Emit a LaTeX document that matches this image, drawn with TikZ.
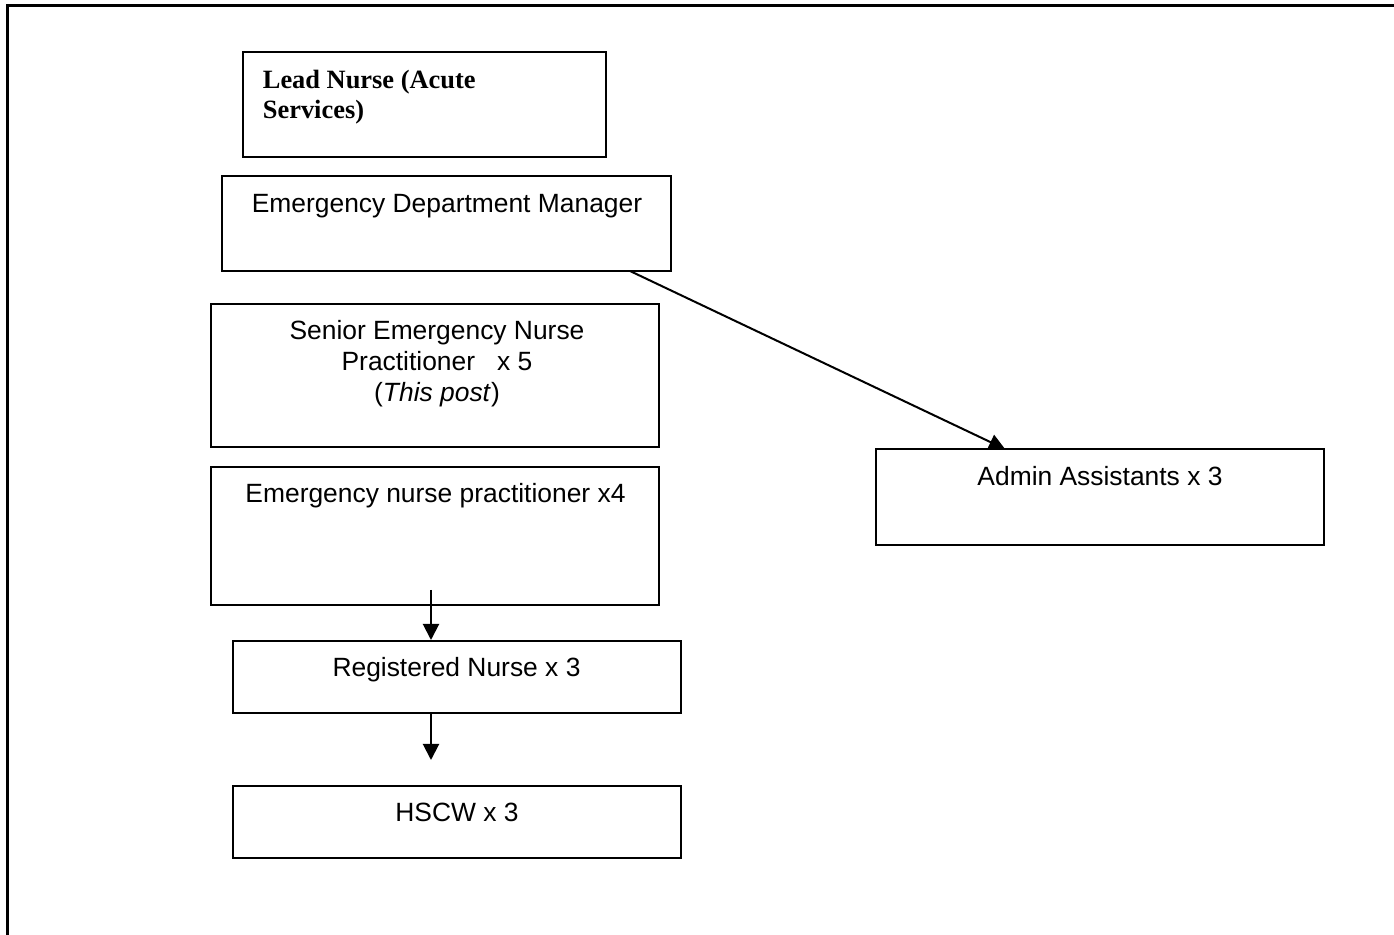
\documentclass[tikz,border=0pt]{standalone}
\usepackage{fontspec}
\setmainfont{Liberation Serif}
\setsansfont{Liberation Sans}
\usetikzlibrary{arrows.meta}

\begin{document}
\begin{tikzpicture}[x=0.5pt,y=-0.5pt,>={Triangle[width=8pt,length=8pt]}]
  \tikzstyle{box}=[rectangle,draw=black,line width=1pt,inner sep=0pt]
  \tikzstyle{txt}=[font=\sffamily\fontsize{13.2}{15.6}\selectfont,inner sep=0pt,align=center]
  \tikzstyle{head}=[font=\rmfamily\bfseries\fontsize{13.2}{15}\selectfont,inner sep=0pt,align=left]

\useasboundingbox (0,0) rectangle (1394,935);
\draw[line width=1.5pt] (7,935) -- (7,6) -- (1394,6);

\foreach \n/\cx/\cy/\w/\h in {lead/424.5/104.5/363/105, edm/446.5/223.5/449/95,
  senp/435/375.5/448/143, enp/435/536/448/138, rn/457/677/448/72,
  hscw/457/822/448/72, admin/1100/497/448/96} {
  \node[box,minimum width=\w*0.5pt,minimum height=\h*0.5pt] (\n) at (\cx,\cy) {};
}

\node[head,anchor=north west] (leadtext) at (262.5,70) {Lead Nurse (Acute\\Services)};
\node[txt,anchor=north] (senptext) at (437,320)
  {Senior Emergency Nurse\\Practitioner \ \ x 5\\(\textit{This post})};
\foreach \n/\cx/\cy/\t in {edm/447/212.5/Emergency Department Manager,
  enp/435.5/502.5/Emergency nurse practitioner x4, rn/456.5/676.5/Registered Nurse x 3,
  hscw/457/821.5/HSCW x 3, admin/1100/485.5/Admin Assistants x 3} {
  \node[txt,anchor=base] (\n text) at (\cx,\cy) {\t};
}

\coordinate (a1) at (431,590);
\coordinate (a2) at (431,760);
\coordinate (d1) at (630,271);
\coordinate (d2) at (1005,449);
\draw[->,line width=1pt] (a1) -- (a1 |- rn.north);
\draw[->,line width=1pt] (a2 |- rn.south) -- (a2);
\draw[->,line width=1pt] (d1) -- (d2);

\end{tikzpicture}
\end{document}
